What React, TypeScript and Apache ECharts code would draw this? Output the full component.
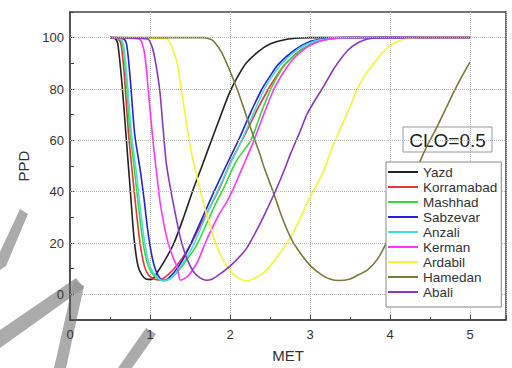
import React, { useEffect, useRef } from "react";
import * as echarts from "echarts";

const seriesNames = ["Yazd", "Korramabad", "Mashhad", "Sabzevar", "Anzali", "Kerman", "Ardabil", "Hamedan", "Abali"];
const seriesColors = ["#222222", "#ee3333", "#33dd33", "#2222dd", "#44e0e0", "#ff33ff", "#f5f533", "#7a7a3a", "#8838c8"];

const yazd = [[0.5,100],[0.57,99.5],[0.6,97],[0.65,82],[0.7,62],[0.75,42],[0.8,22],[0.85,11],[0.9,7.5],[0.95,6],[1.02,5.8],[1.1,9],[1.2,14],[1.3,20],[1.42,30],[1.53,40],[1.65,50],[1.78,61],[1.9,71],[2.0,79],[2.1,85],[2.2,90],[2.35,94.5],[2.5,97.5],[2.7,99.3],[2.9,99.9],[3.0,100],[5.0,100]];
const korramabad = [[0.5,100],[0.6,99.5],[0.64,97],[0.68,85],[0.73,63],[0.78,47],[0.83,32],[0.88,19],[0.93,11],[0.98,7.5],[1.05,6],[1.12,5.6],[1.2,7],[1.3,10],[1.4,14],[1.5,19],[1.6,25],[1.7,31],[1.8,37],[1.88,42],[2.0,51],[2.1,57],[2.2,63],[2.34,72],[2.48,80],[2.6,86],[2.7,90],[2.9,95.5],[3.1,98.5],[3.3,99.7],[3.5,100],[5.0,100]];
const mashhad = [[0.5,100],[0.62,99.5],[0.66,97],[0.7,85],[0.75,63],[0.8,50],[0.85,36],[0.9,23],[0.95,14],[1.0,9.5],[1.08,6.5],[1.18,5.3],[1.25,6],[1.35,9],[1.45,13],[1.58,19],[1.7,27],[1.8,34],[1.93,42],[2.08,52],[2.26,60],[2.38,70],[2.51,80],[2.65,88],[2.75,91.5],[2.93,96],[3.13,98.8],[3.33,99.8],[3.5,100],[5.0,100]];
const sabzevar = [[0.5,100],[0.67,99.5],[0.71,97],[0.75,85],[0.81,62],[0.88,48],[0.93,36],[0.98,23],[1.03,14],[1.07,9.5],[1.12,6.5],[1.17,5.4],[1.22,6],[1.3,8.5],[1.4,13],[1.5,19],[1.6,26],[1.7,33],[1.8,40],[1.95,50],[2.12,61],[2.26,71],[2.4,80],[2.5,85],[2.6,89.5],[2.8,95],[3.0,98.5],[3.2,99.7],[3.4,100],[5.0,100]];
const anzali = [[0.5,100],[0.63,99.5],[0.67,97],[0.71,85],[0.77,62],[0.82,50],[0.87,36],[0.92,23],[0.97,14],[1.02,9.5],[1.1,6.3],[1.17,5.3],[1.25,6.2],[1.35,9.5],[1.45,14],[1.54,19],[1.65,27],[1.75,34],[1.84,40],[1.99,50],[2.16,61],[2.3,71],[2.43,80],[2.55,86],[2.65,90],[2.85,95.5],[3.05,98.6],[3.25,99.7],[3.45,100],[5.0,100]];
const kerman = [[0.5,100],[0.86,99.5],[0.9,98],[0.94,92],[1.0,72],[1.05,56],[1.08,48],[1.13,35],[1.21,22],[1.28,15],[1.34,10.6],[1.38,5.5],[1.45,6.5],[1.5,8],[1.6,13],[1.69,20],[1.78,26],[1.88,32],[1.96,36],[2.04,41],[2.15,49],[2.3,60],[2.42,70],[2.55,80],[2.68,87],[2.8,92],[3.0,97],[3.2,99.3],[3.4,100],[5.0,100]];
const ardabil = [[0.5,100],[1.19,99.8],[1.25,98],[1.3,94],[1.34,90],[1.38,82],[1.42,74],[1.5,58],[1.6,44],[1.71,31],[1.82,20],[1.92,13],[2.05,7.5],[2.21,5.2],[2.4,8],[2.5,11],[2.6,15],[2.77,23],[2.87,29],[2.97,36],[3.07,42],[3.17,48],[3.3,59],[3.4,66],[3.5,73],[3.59,80],[3.7,86],[3.8,90],[3.9,94],[4.01,97],[4.1,98.6],[4.2,99.5],[4.4,100],[5.0,100]];
const hamedan = [[0.5,100],[1.67,100],[1.75,99.5],[1.8,98.5],[1.9,94],[2.0,87],[2.1,79],[2.21,69],[2.3,61],[2.38,54],[2.42,50],[2.55,39],[2.65,30],[2.76,22],[2.88,16],[3.01,11],[3.15,7.5],[3.25,6],[3.36,5.4],[3.5,6],[3.6,7.5],[3.72,9.5],[3.85,14],[3.97,21],[4.1,30],[4.2,38],[4.3,46],[4.42,55],[4.5,60],[4.6,66],[4.7,72.5],[4.8,79],[4.9,85],[5.0,90.5]];
const abali = [[0.5,100],[0.97,99.5],[1.02,97],[1.06,92],[1.12,80],[1.16,66],[1.2,52],[1.24,44],[1.3,34],[1.38,22],[1.46,14],[1.54,9],[1.62,6.5],[1.7,5.5],[1.78,6],[1.9,8.5],[2.0,11],[2.1,14],[2.21,18],[2.3,23],[2.4,29],[2.55,39],[2.66,47],[2.76,55],[2.87,63],[2.96,70],[3.07,76],[3.17,81],[3.3,88],[3.47,95],[3.6,98],[3.72,99.5],[3.9,100],[5.0,100]];

const seriesData = [yazd, korramabad, mashhad, sabzevar, anzali, kerman, ardabil, hamedan, abali];

const yGridValues = [0, 20, 40, 60, 80, 100];
const xMin = 0;
const xMax = 5.45;
const yMin = -10;
const yMax = 110;
const annotation = "CLO=0.5";

const FONT = "Liberation Sans, Arial, sans-serif";
const MARK = "rgba(150,150,150,0.8)";

export default function App() {
  const ref = useRef<HTMLDivElement>(null);
  useEffect(() => {
    if (!ref.current) return;
    const chart = echarts.init(ref.current, undefined, { renderer: "svg" });
    const lines: any[] = seriesNames.map((name, i) => ({
      name,
      type: "line",
      data: seriesData[i],
      showSymbol: false,
      symbol: "none",
      smooth: 0.25,
      z: 3,
      lineStyle: { color: seriesColors[i], width: 1.6 },
      itemStyle: { color: seriesColors[i] },
    }));
    const gridSeries = {
      name: "__grid",
      type: "line",
      data: [],
      z: 1,
      markLine: {
        silent: true,
        symbol: "none",
        label: { show: false },
        lineStyle: { type: "dotted", color: "#b8b8b8", width: 1 },
        data: yGridValues.map((v) => ({ yAxis: v })),
      },
    };
    chart.setOption({
      animation: false,
      backgroundColor: "#ffffff",
      grid: {
        left: 70,
        top: 12,
        right: 6,
        bottom: 48,
        show: true,
        borderColor: "#444",
        borderWidth: 1.5,
      },
      xAxis: {
        type: "value",
        min: xMin,
        max: xMax,
        interval: 1,
        name: "MET",
        nameLocation: "middle",
        nameGap: 28,
        nameTextStyle: { fontFamily: FONT, fontSize: 15, color: "#333" },
        axisLine: { show: true, onZero: false, lineStyle: { color: "#444", width: 1.5 } },
        axisTick: { show: true, inside: true, length: 5, lineStyle: { color: "#444" } },
        minorTick: { show: true, splitNumber: 2, length: 3, lineStyle: { color: "#444" } },
        axisLabel: {
          fontFamily: FONT,
          fontSize: 13,
          color: "#333",
          margin: 8,
          showMaxLabel: false,
          formatter: (v: number) => (Number.isInteger(v) ? String(v) : ""),
        },
        splitLine: { show: true, lineStyle: { type: "dotted", color: "#b8b8b8", width: 1 } },
      },
      yAxis: {
        type: "value",
        min: yMin,
        max: yMax,
        interval: 10,
        name: "PPD",
        nameLocation: "middle",
        nameGap: 38,
        nameTextStyle: { fontFamily: FONT, fontSize: 15, color: "#333" },
        axisLine: { show: true, onZero: false, lineStyle: { color: "#444", width: 1.5 } },
        axisTick: { show: true, inside: true, length: 4, lineStyle: { color: "#444" } },
        axisLabel: {
          fontFamily: FONT,
          fontSize: 13,
          color: "#333",
          margin: 6,
          formatter: (v: number) => (v >= 0 && v <= 100 && Math.round(v) % 20 === 0 ? String(Math.round(v)) : ""),
        },
        splitLine: { show: false },
      },
      legend: {
        orient: "vertical",
        left: 386,
        top: 162,
        data: seriesNames,
        icon: "rect",
        itemWidth: 30,
        itemHeight: 2,
        itemGap: 1,
        padding: [3, 4, 8, 2],
        backgroundColor: "#ffffff",
        borderColor: "#888",
        borderWidth: 1,
        textStyle: { fontFamily: FONT, fontSize: 13.5, color: "#333", lineHeight: 14 },
        z: 6,
      },
      graphic: [
        {
          type: "group",
          z: 20,
          children: [
            { type: "rect", shape: { x: 403, y: 127, width: 89, height: 25 }, style: { fill: "#ffffff", stroke: "#999", lineWidth: 1 } },
            { type: "text", x: 447.5, y: 140, style: { text: annotation, fill: "#222", font: "19px " + FONT, textAlign: "center", textVerticalAlign: "middle" } },
          ],
        },
        {
          type: "group",
          z: 100,
          children: [
            { type: "polygon", shape: { points: [[0, 252], [20, 209], [28, 214], [6, 266], [0, 270]] }, style: { fill: MARK } },
            { type: "polygon", shape: { points: [[0, 330], [76, 278], [84, 288], [0, 348]] }, style: { fill: MARK } },
            { type: "polygon", shape: { points: [[74, 280], [84, 286], [66, 368], [54, 368]] }, style: { fill: MARK } },
            { type: "polygon", shape: { points: [[118, 368], [146, 328], [156, 334], [132, 368]] }, style: { fill: MARK } },
          ],
        },
      ],
      series: [gridSeries, ...lines],
    });
    return () => chart.dispose();
  }, []);
  return <div ref={ref} style={{ position: "fixed", left: 0, top: 0, width: 512, height: 368 }} />;
}
